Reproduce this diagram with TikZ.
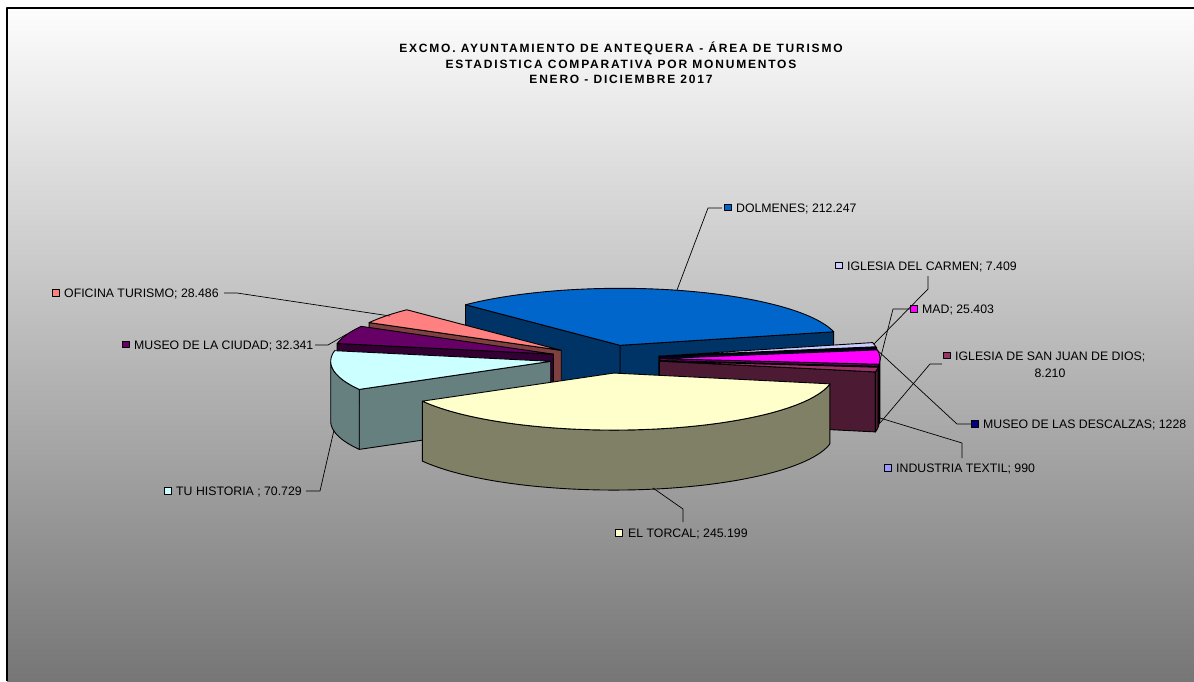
\documentclass[tikz,border=0pt]{standalone}
\usepackage{fontspec}
\setmainfont{Liberation Sans}
\definecolor{cDol}{HTML}{0066CC}\definecolor{sDol}{HTML}{003366}
\definecolor{cOfi}{HTML}{FF8080}\definecolor{sOfi}{HTML}{804040}
\definecolor{cMus}{HTML}{660066}\definecolor{sMus}{HTML}{330033}
\definecolor{cCar}{HTML}{CCCCFF}\definecolor{sCar}{HTML}{666680}
\definecolor{cDes}{HTML}{000080}\definecolor{sDes}{HTML}{000040}
\definecolor{cMad}{HTML}{FF00FF}\definecolor{sMad}{HTML}{800080}
\definecolor{cTex}{HTML}{9999FF}\definecolor{sTex}{HTML}{4D4D80}
\definecolor{cSan}{HTML}{993366}\definecolor{sSan}{HTML}{4D1A33}
\definecolor{cTuh}{HTML}{CCFFFF}\definecolor{sTuh}{HTML}{668080}
\definecolor{cTor}{HTML}{FFFFCC}\definecolor{sTor}{HTML}{808066}
\definecolor{bgTop}{HTML}{FDFDFD}\definecolor{bgMid}{HTML}{CACACA}\definecolor{bgBot}{HTML}{767676}
\newcommand\pieslice[4]{%
  \pgfmathsetmacro\pma{(#1+#2)/2}%
  \pgfmathsetmacro\pax{605+55*cos(\pma)}%
  \pgfmathsetmacro\pay{359-14.25*sin(\pma)}%
  \pgfmathsetmacro\pca{cos(#1)}%
  \pgfmathsetmacro\pcb{cos(#2)}%
  \ifdim\pca pt>0pt
    \filldraw[slice,fill=#4] (\pax,\pay) -- ({\pax+220*cos(#1)},{\pay-57*sin(#1)}) -- ({\pax+220*cos(#1)},{\pay-57*sin(#1)+60}) -- (\pax,{\pay+60}) -- cycle;
  \fi
  \ifdim\pcb pt<0pt
    \filldraw[slice,fill=#4] (\pax,\pay) -- ({\pax+220*cos(#2)},{\pay-57*sin(#2)}) -- ({\pax+220*cos(#2)},{\pay-57*sin(#2)+60}) -- (\pax,{\pay+60}) -- cycle;
  \fi
  \pgfmathsetmacro\pblo{max(#1,180)}%
  \pgfmathsetmacro\pbhi{min(#2,360)}%
  \ifdim\pblo pt<\pbhi pt
    \filldraw[slice,fill=#4] plot[domain=\pblo:\pbhi,samples=60] ({\pax+220*cos(\x)},{\pay-57*sin(\x)}) -- plot[domain=\pbhi:\pblo,samples=60] ({\pax+220*cos(\x)},{\pay-57*sin(\x)+60}) -- cycle;
  \fi
  \filldraw[slice,fill=#3] (\pax,\pay) -- plot[domain=#1:#2,samples=80] ({\pax+220*cos(\x)},{\pay-57*sin(\x)}) -- cycle;
}
\begin{document}
\begin{tikzpicture}[x=1pt,y=-1pt,line join=round,
  keysq/.style={draw=black,line width=0.7pt,minimum size=6.5pt,inner sep=0pt},
  lbl/.style={anchor=base west,inner sep=0pt,font=\fontsize{12.3}{14}\selectfont},
  leader/.style={draw=black,line width=0.7pt},
  slice/.style={draw=black,line width=0.9pt}]
\useasboundingbox (0,0) rectangle (1194,681);
\fill[white] (0,0) rectangle (1194,681);
\shade[top color=bgTop,middle color=bgMid,bottom color=bgBot] (7,8) rectangle (1194,681);
\draw[line width=1.3pt] (7,681) -- (7,8) -- (1194,8);

\node[align=center,inner sep=0pt,font=\bfseries\fontsize{12}{15.5}\selectfont\addfontfeatures{LetterSpace=15}] (title) at (621,63)
  {EXCMO. AYUNTAMIENTO DE ANTEQUERA - ÁREA DE TURISMO\\ESTADISTICA COMPARATIVA POR MONUMENTOS\\ENERO - DICIEMBRE 2017};

\pieslice{13.75}{134.60}{cDol}{sDol}
\pieslice{134.60}{150.82}{cOfi}{sOfi}
\pieslice{150.82}{169.23}{cMus}{sMus}
\pieslice{9.49}{13.75}{cCar}{sCar}
\pieslice{8.79}{9.49}{cDes}{sDes}
\pieslice{354.33}{368.79}{cMad}{sMad}
\pieslice{353.77}{354.33}{cTex}{sTex}
\pieslice{349.10}{353.77}{cSan}{sSan}
\pieslice{169.23}{209.50}{cTuh}{sTuh}
\pieslice{209.50}{349.10}{cTor}{sTor}

% labels
\node[keysq,fill=cDol] (kDol) at (728,207.5) {};
\node[lbl] (tDol) at (736,212) {DOLMENES; 212.247};
\node[keysq,fill=cCar] (kCar) at (839,265.5) {};
\node[lbl] (tCar) at (847,270) {IGLESIA DEL CARMEN; 7.409};
\node[keysq,fill=cMad] (kMad) at (914,309) {};
\node[lbl] (tMad) at (922,313.5) {MAD; 25.403};
\node[keysq,fill=cSan] (kSan) at (947,355.5) {};
\node[lbl] (tSan) at (955,360) {IGLESIA DE SAN JUAN DE DIOS;};
\node[lbl,anchor=base] (tSanb) at (1050,377) {8.210};
\node[keysq,fill=cDes] (kDes) at (975,424) {};
\node[lbl] (tDes) at (983,428.5) {MUSEO DE LAS DESCALZAS; 1228};
\node[keysq,fill=cTex] (kTex) at (888,468) {};
\node[lbl] (tTex) at (896,472.5) {INDUSTRIA TEXTIL; 990};
\node[keysq,fill=cTor] (kTor) at (619,533) {};
\node[lbl] (tTor) at (628,537.5) {EL TORCAL; 245.199};
\node[keysq,fill=cTuh] (kTuh) at (168,491) {};
\node[lbl] (tTuh) at (176,495.5) {TU HISTORIA ; 70.729};
\node[keysq,fill=cMus] (kMus) at (126,344.5) {};
\node[lbl] (tMus) at (134,349) {MUSEO DE LA CIUDAD; 32.341};
\node[keysq,fill=cOfi] (kOfi) at (56,293) {};
\node[lbl] (tOfi) at (64,297.5) {OFICINA TURISMO; 28.486};

% leader anchors
\coordinate (pDol) at (677,290); \coordinate (eDol) at (722,208);
\coordinate (pCar) at (874,344); \coordinate (eCar) at (928,276);
\coordinate (pMad) at (880,360); \coordinate (eMad) at (910,309);
\coordinate (pSan) at (880,423); \coordinate (eSan) at (942,364);
\coordinate (pDes) at (876,349); \coordinate (eDes) at (971,424);
\coordinate (pTex) at (880,418); \coordinate (eTex) at (962,458);
\coordinate (pTor) at (653,488); \coordinate (eTor) at (683,522);
\coordinate (pTuh) at (334,430); \coordinate (eTuh) at (306,491);
\coordinate (pMus) at (347,334); \coordinate (eMus) at (315,345);
\coordinate (pOfi) at (390,316); \coordinate (eOfi) at (224,293);

\draw[leader] (pDol) -- (708,208) -- (eDol);
\draw[leader] (pCar) -- (928,289) -- (eCar);
\draw[leader] (pMad) -- (893,309) -- (eMad);
\draw[leader] (pSan) -- (930,364) -- (eSan);
\draw[leader] (pDes) -- (957,424) -- (eDes);
\draw[leader] (pTex) -- (962,443) -- (eTex);
\draw[leader] (pTor) -- (683,509) -- (eTor);
\draw[leader] (pTuh) -- (320,491) -- (eTuh);
\draw[leader] (pMus) -- (328,345) -- (eMus);
\draw[leader] (pOfi) -- (237,293) -- (eOfi);
\end{tikzpicture}
\end{document}
